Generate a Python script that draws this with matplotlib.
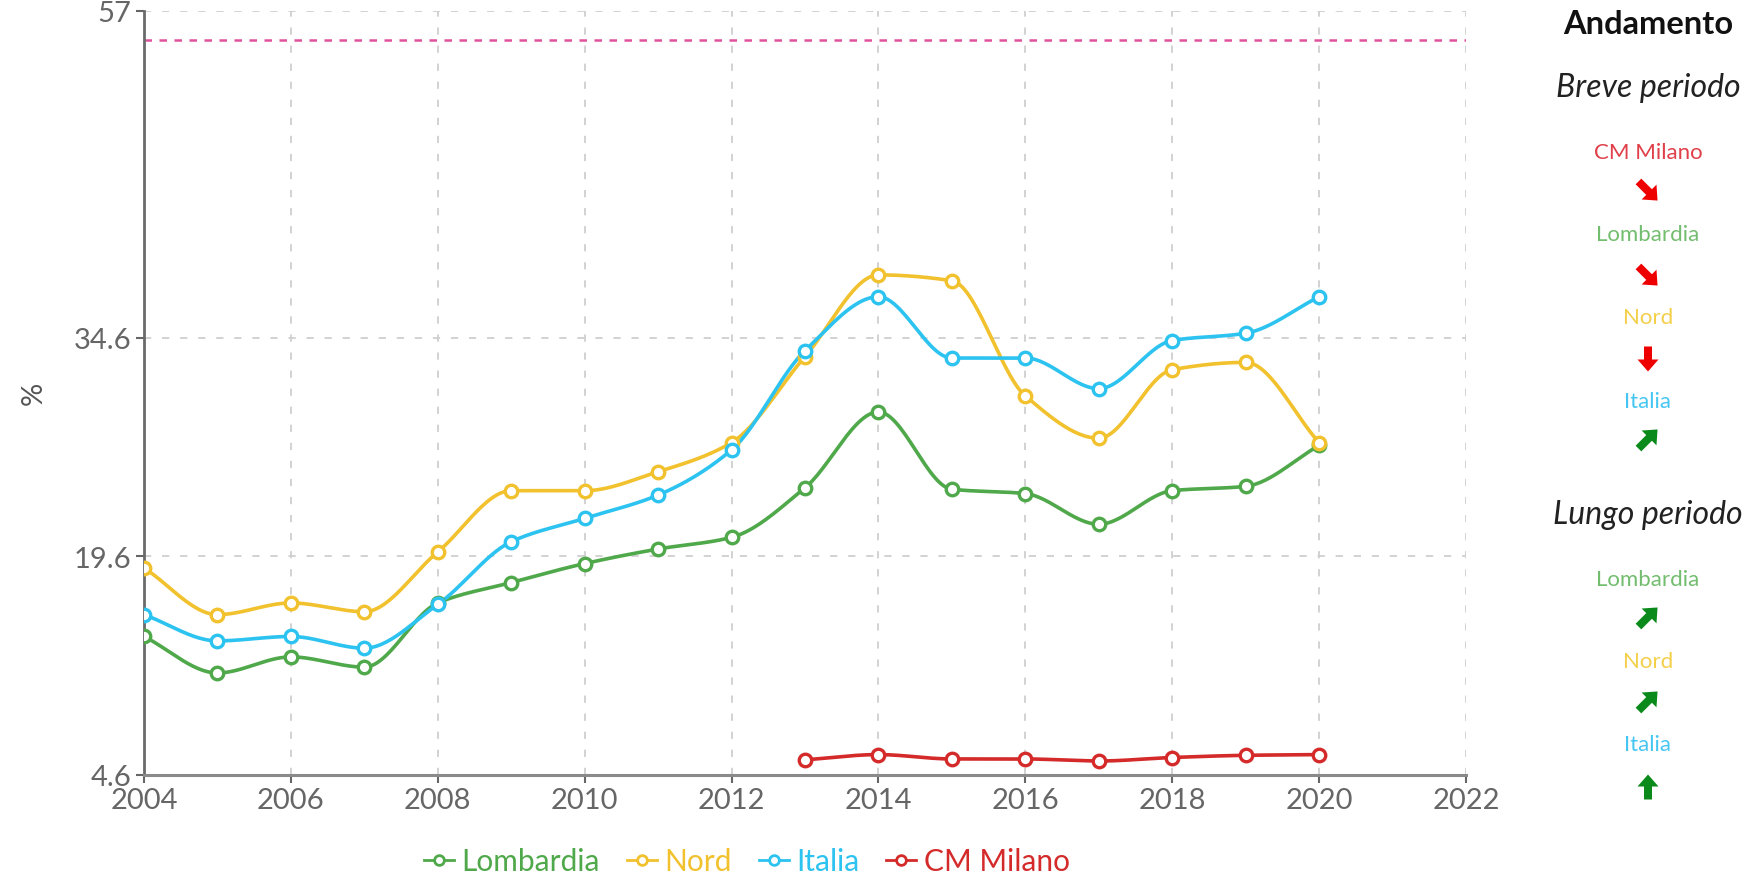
import numpy as np
import matplotlib
matplotlib.use("Agg")
import matplotlib.pyplot as plt
from matplotlib.lines import Line2D
from matplotlib.patches import FancyArrow

# ---- data ----
years = list(range(2004, 2021))
lombardia = [14.1, 11.6, 12.7, 12.0, 16.4, 17.8, 19.1, 20.1, 20.9, 24.3, 29.5, 24.2, 23.9, 21.8, 24.1, 24.4, 27.2]
nord = [18.8, 15.6, 16.4, 15.8, 19.9, 24.1, 24.1, 25.4, 27.4, 33.3, 38.9, 38.5, 30.6, 27.7, 32.4, 32.9, 27.4]
italia = [15.6, 13.8, 14.1, 13.3, 16.3, 20.6, 22.2, 23.8, 26.9, 33.7, 37.4, 33.2, 33.2, 31.1, 34.4, 34.9, 37.4]
milano_years = list(range(2013, 2021))
milano = [5.64, 6.0, 5.7, 5.7, 5.56, 5.8, 5.95, 6.0]
target = 55.0
y_ticks = [4.6, 19.6, 34.6, 57]
y_tick_labels = ["4.6", "19.6", "34.6", "57"]
x_ticks = list(range(2004, 2023, 2))

series_names = ["Lombardia", "Nord", "Italia", "CM Milano"]
colors = {"Lombardia": "#4fa84a", "Nord": "#f2c12e", "Italia": "#2cc3f0", "CM Milano": "#d42a2a"}
label_colors = {"Lombardia": "#72bd6e", "Nord": "#f4cf4a", "Italia": "#45c6f2", "CM Milano": "#e0404a"}

short_trend = [("CM Milano", "down-right"), ("Lombardia", "down-right"), ("Nord", "down"), ("Italia", "up-right")]
long_trend = [("Lombardia", "up-right"), ("Nord", "up-right"), ("Italia", "up")]

FONT = ["Lato", "DejaVu Sans"]
plt.rcParams["font.family"] = FONT


def pchip(x, y, n=30):
    x = np.asarray(x, float)
    y = np.asarray(y, float)
    h = np.diff(x)
    d = np.diff(y) / h
    m = np.zeros_like(y)
    for k in range(1, len(y) - 1):
        if d[k - 1] * d[k] <= 0:
            m[k] = 0
        else:
            w1 = 2 * h[k] + h[k - 1]
            w2 = h[k] + 2 * h[k - 1]
            m[k] = (w1 + w2) / (w1 / d[k - 1] + w2 / d[k])
    m[0] = d[0]
    m[-1] = d[-1]
    xs, ys = [], []
    for k in range(len(x) - 1):
        t = np.linspace(0, 1, n, endpoint=False)
        h00 = 2 * t**3 - 3 * t**2 + 1
        h10 = t**3 - 2 * t**2 + t
        h01 = -2 * t**3 + 3 * t**2
        h11 = t**3 - t**2
        xs.append(x[k] + t * h[k])
        ys.append(h00 * y[k] + h10 * h[k] * m[k] + h01 * y[k + 1] + h11 * h[k] * m[k + 1])
    xs.append([x[-1]])
    ys.append([y[-1]])
    return np.concatenate(xs), np.concatenate(ys)


W, H = 1762, 878
fig = plt.figure(figsize=(W / 100, H / 100), dpi=100)
ax = fig.add_axes([144 / W, 1 - 776 / H, (1466 - 144) / W, (776 - 12) / H])

ax.set_xlim(2004, 2022)
ax.set_ylim(4.6, 57)
ax.set_xticks(x_ticks)
ax.set_yticks(y_ticks)
ax.set_yticklabels(y_tick_labels)
ax.grid(True, color="#cfcfcf", linestyle=(0, (4, 6)), linewidth=1.3)
ax.set_axisbelow(True)
for s in ["top", "right"]:
    ax.spines[s].set_visible(False)
ax.spines["left"].set_color("#6a6a6a")
ax.spines["left"].set_linewidth(2)
ax.spines["bottom"].set_color("#8a8a8a")
ax.spines["bottom"].set_linewidth(2.2)
ax.tick_params(axis="both", colors="#666666", labelsize=21, length=6, width=1.5)
ax.tick_params(axis="x", pad=3)
ax.tick_params(axis="y", pad=3)
fig.text(34 / W, 1 - 393 / H, "%", rotation=90, ha="center", va="center", fontsize=21, color="#555555")

ax.axhline(target, color="#e0529c", linestyle=(0, (3, 3)), linewidth=1.8)

data = [("Lombardia", years, lombardia), ("Nord", years, nord), ("Italia", years, italia), ("CM Milano", milano_years, milano)]
for name, xx, yy in data:
    sx, sy = pchip(xx, yy)
    ax.plot(sx, sy, color=colors[name], linewidth=2.6, zorder=3, solid_capstyle="round")
    ax.plot(xx, yy, linestyle="none", marker="o", markersize=9, markerfacecolor="white",
            markeredgecolor=colors[name], markeredgewidth=2.4, zorder=4)

handles = [Line2D([0], [0], color=colors[n], linewidth=2, marker="o", markersize=7,
                  markerfacecolor="white", markeredgecolor=colors[n], markeredgewidth=2) for n in series_names]
leg = fig.legend(handles, series_names, loc="center", bbox_to_anchor=(747 / W, 1 - 862 / H),
                 ncol=4, frameon=False, fontsize=21.5, handlelength=1.0, handletextpad=0.25,
                 columnspacing=0.9)
for t, n in zip(leg.get_texts(), series_names):
    t.set_color(colors[n])

# ---- right panel (pixel coordinates overlay) ----
ov = fig.add_axes([0, 0, 1, 1])
ov.set_xlim(0, W)
ov.set_ylim(H, 0)
ov.axis("off")
ov.patch.set_alpha(0)

cx = 1648
ov.text(cx, 25, "Andamento", ha="center", va="center", fontsize=23.5, fontweight="bold", color="#111111")
ov.text(cx, 88, "Breve periodo", ha="center", va="center", fontsize=23, style="italic", color="#222222")
ov.text(cx, 515, "Lungo periodo", ha="center", va="center", fontsize=23, style="italic", color="#222222")

dirs = {"down-right": (1, 1), "down": (0, 1), "up-right": (1, -1), "up": (0, -1)}
arrow_colors = {"down-right": "#ee0000", "down": "#ee0000", "up-right": "#0a8a1a", "up": "#0a8a1a"}


def draw_arrow(xc, yc, d):
    ux, uy = dirs[d]
    norm = np.hypot(ux, uy)
    ux, uy = ux / norm, uy / norm
    L = 27 if d in ("down-right", "up-right") else 25
    x0 = xc - ux * L / 2
    y0 = yc - uy * L / 2
    ov.add_patch(FancyArrow(x0, y0, ux * L, uy * L, width=8, head_width=21, head_length=12,
                            length_includes_head=True, color=arrow_colors[d], linewidth=0))


label_y = [153, 235, 318, 402]
arrow_y = [192, 277, 360, 440]
for (name, d), ly, ay in zip(short_trend, label_y, arrow_y):
    ov.text(cx, ly, name, ha="center", va="center", fontsize=16, color=label_colors[name])
    draw_arrow(cx, ay, d)

label_y2 = [580, 662, 745]
arrow_y2 = [618, 702, 788]
for (name, d), ly, ay in zip(long_trend, label_y2, arrow_y2):
    ov.text(cx, ly, name, ha="center", va="center", fontsize=16, color=label_colors[name])
    draw_arrow(cx, ay, d)

fig.savefig("out.png", dpi=100)
